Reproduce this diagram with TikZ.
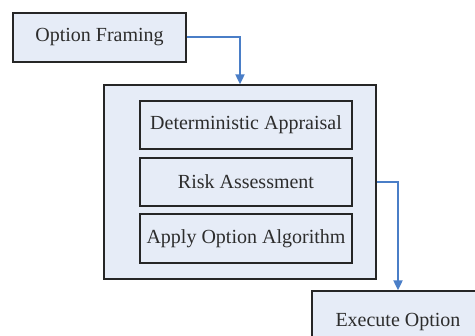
\documentclass[tikz,border=0pt]{standalone}
\usepackage{fontspec}
\setmainfont{Liberation Serif}
\usetikzlibrary{arrows.meta}

\definecolor{boxfill}{RGB}{230,236,247}
\definecolor{flowblue}{RGB}{74,126,199}
\definecolor{inkgray}{RGB}{45,45,45}

\begin{document}
\begin{tikzpicture}[x=1pt,y=1pt,
  stagebox/.style={draw=black!85, line width=1.3pt, fill=boxfill, text=inkgray,
    inner sep=0pt, font=\fontsize{20}{24}\selectfont},
  flow/.style={draw=flowblue, line width=2pt, -{Triangle[length=10pt,width=9pt]}}]

\useasboundingbox (0,0) rectangle (475,336);

\node [stagebox, minimum width=173pt, minimum height=49pt] (framing) at (99.5,298.5) {Option Framing};

\node [stagebox, minimum width=272pt, minimum height=194pt] (outer) at (240,154) {};

\node [stagebox, minimum width=212pt, minimum height=48pt] (appraisal) at (246,211) {Deterministic Appraisal};
\node [stagebox, minimum width=212pt, minimum height=48pt] (risk) at (246,154) {Risk Assessment};
\node [stagebox, minimum width=212pt, minimum height=49pt] (algorithm) at (246,97.5) {Apply Option Algorithm};

%\node runs off the page on the right and bottom
\node [stagebox, minimum width=172pt, minimum height=62pt] (execute) at (398,14) {Execute Option};

\draw [flow] (framing.east) -| (outer.north);
\draw [flow] (outer.east) -| (execute.north);

\end{tikzpicture}
\end{document}
